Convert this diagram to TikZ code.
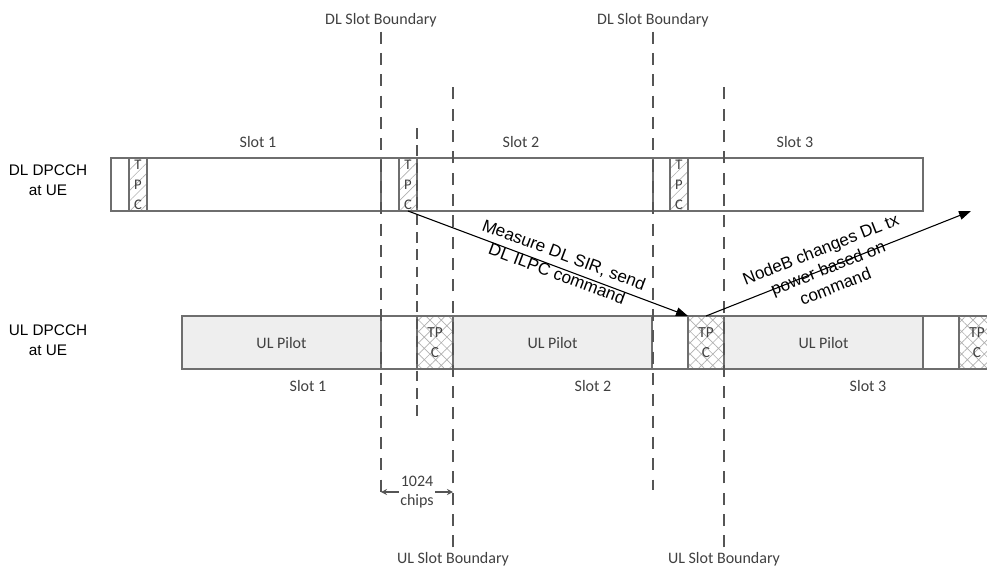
\documentclass[tikz,border=0pt]{standalone}
\usepackage{fontspec}
\setmainfont{Liberation Sans}
\newfontfamily\calibri{Carlito}
\usetikzlibrary{arrows.meta,patterns.meta,positioning}
\definecolor{linegray}{HTML}{6E6E6E}
\definecolor{dashgray}{HTML}{555555}
\definecolor{textgray}{HTML}{404040}
\definecolor{pilotgray}{HTML}{EEEEEE}
\definecolor{hatchgray}{HTML}{B0B0B0}
\begin{document}
\begin{tikzpicture}[x = 0.75pt, y = -0.75pt,
  bar/.style = {draw = linegray, line width = 1pt, inner sep = 0pt, outer sep = 0pt, minimum height = 39.75pt},
  pilot/.style = {bar, fill = pilotgray, minimum width = 149.25pt, font = \calibri\fontsize{12}{14}\selectfont, text = textgray},
  gap/.style = {bar, fill = white, minimum width = 27pt},
  ultpcbox/.style = {bar, minimum width = 27pt, pattern = {Hatch[angle = 45, distance = 6pt, line width = 0.5pt]}, pattern color = hatchgray, align = center, font = \calibri\fontsize{11.5}{15}\selectfont, text = textgray},
  dltpcbox/.style = {bar, minimum width = 13.5pt, pattern = {Lines[angle = 45, distance = 5.5pt, line width = 0.5pt]}, pattern color = hatchgray, align = center, font = \calibri\fontsize{11}{15}\selectfont, text = textgray},
  slotline/.style = {dashgray, line width = 1.4pt, dash pattern = on 9pt off 7pt},
  tpcline/.style = {dashgray, line width = 0.9pt, dash pattern = on 8pt off 5pt},
  small/.style = {font = \calibri\fontsize{12}{14}\selectfont, text = textgray},
  chan/.style = {font = \fontsize{11.5}{15}\selectfont, align = center},
  msg/.style = {font = \fontsize{12.8}{15}\selectfont, align = center, sloped},
  msgarrow/.style = {-{Triangle[length = 9pt, width = 6.5pt]}, line width = 0.8pt},
  chiparrow/.style = {-{Stealth[length = 4.5pt, width = 4.5pt]}, dashgray, line width = 0.8pt}]
\useasboundingbox (0,0) rectangle (987,569);
% channel names
\node[chan] (dlname) at (48,180) {DL DPCCH\\at UE};
\node[chan] (ulname) at (48,340) {UL DPCCH\\at UE};
% DL slots
\node[bar, minimum width = 609pt, anchor = north west] (dlbar) at (111,158) {};
\draw[bar] (381,158) -- (381,211);
\draw[bar] (653,158) -- (653,211);
\node[dltpcbox, anchor = north west] (dltpcA) at (129,158) {T\\P\\C};
\node[dltpcbox, anchor = north west] (dltpcB) at (399,158) {T\\P\\C};
\node[dltpcbox, anchor = north west] (dltpcC) at (670,158) {T\\P\\C};
\node[small] (dlslotA) at (258,142) {Slot 1};
\node[small] (dlslotB) at (521,142) {Slot 2};
\node[small] (dlslotC) at (795,142) {Slot 3};
% UL slots
\node[pilot, anchor = north west] (pilotA) at (182,316) {UL Pilot};
\node[gap, right = 0pt of pilotA] (gapA) {};
\node[ultpcbox, right = 0pt of gapA] (ultpcA) {TP\\C};
\node[pilot, right = 0pt of ultpcA] (pilotB) {UL Pilot};
\node[gap, right = 0pt of pilotB] (gapB) {};
\node[ultpcbox, right = 0pt of gapB] (ultpcB) {TP\\C};
\node[pilot, right = 0pt of ultpcB] (pilotC) {UL Pilot};
\node[gap, right = 0pt of pilotC] (gapC) {};
\node[ultpcbox, right = 0pt of gapC] (ultpcC) {TP\\C};
\node[small] (ulslotA) at (308,386) {Slot 1};
\node[small] (ulslotB) at (593,386) {Slot 2};
\node[small] (ulslotC) at (868,386) {Slot 3};
% slot boundaries
\node[small] (dlsbA) at (381,20) {DL Slot Boundary};
\node[small] (dlsbB) at (653,20) {DL Slot Boundary};
\node[small] (ulsbA) at (453,559) {UL Slot Boundary};
\node[small] (ulsbB) at (724,559) {UL Slot Boundary};
\coordinate (chipL) at (381,492);
\coordinate (chipR) at (453,492);
\draw[slotline] (dlsbA) -- (chipL);
\draw[slotline] (dlsbB) -- (653,490);
\draw[slotline] (ulsbA) -- (453,87);
\draw[slotline] (ulsbB) -- (724,87);
\draw[tpcline] (417,128) -- (417,422);
\node[small, align = center, inner sep = 1pt] (chips) at (417,492) {1024\\chips};
\draw[chiparrow] (chips) -- (chipL);
\draw[chiparrow] (chips) -- (chipR);
% power control loop
\coordinate (dlpower) at (971,211);
\draw[msgarrow] (dltpcB.south) -- (ultpcB.north west)
  node[msg, pos = 0.54, yshift = 3pt] {Measure DL SIR, send\\DL ILPC command};
\draw[msgarrow] (ultpcB.north) -- (dlpower)
  node[msg, pos = 0.46] {NodeB changes DL tx\\power based on\\command};
\end{tikzpicture}
\end{document}
